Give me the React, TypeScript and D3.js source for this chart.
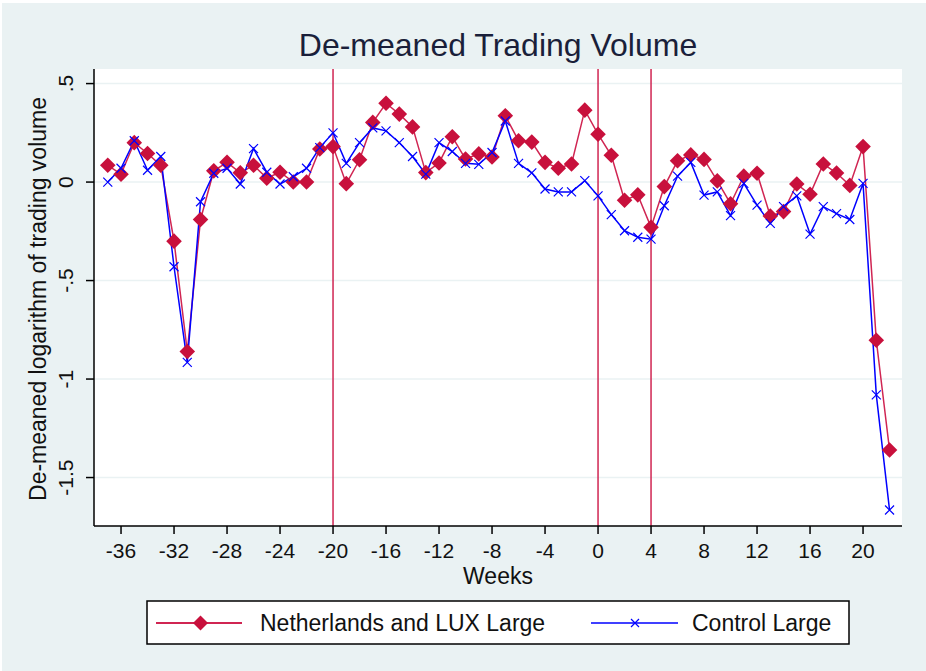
import React from 'react';
import * as d3 from 'd3';

// weeks relative to event
const weeks = d3.range(-37, 23);

// Netherlands and LUX Large (red diamonds)
const nlValues = [
  0.085, 0.04, 0.2, 0.145, 0.085, -0.3, -0.86, -0.19, 0.057, 0.1,
  0.047, 0.085, 0.02, 0.05, 0.0, 0.0, 0.168, 0.18, -0.008, 0.113,
  0.303, 0.4, 0.345, 0.28, 0.048, 0.097, 0.23, 0.117, 0.143, 0.127,
  0.337, 0.21, 0.203, 0.1, 0.07, 0.092, 0.365, 0.243, 0.136, -0.092,
  -0.065, -0.23, -0.023, 0.108, 0.138, 0.115, 0.006, -0.11, 0.03, 0.045,
  -0.172, -0.15, -0.01, -0.062, 0.092, 0.046, -0.017, 0.18, -0.803, -1.36,
];

// Control Large (blue crosses)
const ctrlValues = [
  0.0, 0.07, 0.21, 0.06, 0.13, -0.43, -0.915, -0.1, 0.045, 0.07,
  -0.01, 0.17, 0.05, -0.01, 0.027, 0.07, 0.175, 0.25, 0.095, 0.2,
  0.275, 0.26, 0.2, 0.13, 0.04, 0.2, 0.155, 0.095, 0.09, 0.15,
  0.31, 0.095, 0.047, -0.035, -0.05, -0.05, 0.007, -0.07, -0.165, -0.247,
  -0.28, -0.29, -0.12, 0.03, 0.1, -0.066, -0.05, -0.17, -0.007, -0.117,
  -0.21, -0.125, -0.07, -0.264, -0.125, -0.16, -0.19, -0.007, -1.08, -1.665,
];

const xTicks = [-36, -32, -28, -24, -20, -16, -12, -8, -4, 0, 4, 8, 12, 16, 20];
const yTicks = [0.5, 0, -0.5, -1, -1.5];
const yTickLabels = ['.5', '0', '-.5', '-1', '-1.5'];
const eventLines = [-20, 0, 4];

const RED = '#C8103C';
const RED_LINE = '#D02552';
const BLUE = '#0000FF';
const BG = '#EAF2F3';
const FONT = '"Liberation Sans", Arial, sans-serif';

const plot = { left: 94, right: 902, top: 69, bottom: 526 };

export default function App() {
  const xScale = d3.scaleLinear().domain([-38.04, 22.94]).range([plot.left, plot.right]);
  const yScale = d3.scaleLinear().domain([0.574, -1.746]).range([plot.top, plot.bottom]);

  const line = d3.line<number>()
    .x((d, i) => xScale(weeks[i]))
    .y((d) => yScale(d));

  const diamond = (cx: number, cy: number, r: number) =>
    `M${cx},${cy - r}L${cx + r},${cy}L${cx},${cy + r}L${cx - r},${cy}Z`;
  const cross = (cx: number, cy: number, r: number) =>
    `M${cx - r},${cy - r}L${cx + r},${cy + r}M${cx - r},${cy + r}L${cx + r},${cy - r}`;

  return (
    <svg width={926} height={671} style={{ display: 'block', position: 'absolute', left: 0, top: 0 }}>
      <rect x={0} y={0} width={926} height={671} fill="#fff" />
      <rect x={2} y={3} width={924} height={668} fill={BG} />
      <rect x={plot.left} y={plot.top} width={plot.right - plot.left} height={plot.bottom - plot.top} fill="#fff" />

      {/* gridlines */}
      {yTicks.map((t) => (
        <line key={'g' + t} x1={plot.left} x2={plot.right} y1={yScale(t)} y2={yScale(t)} stroke={BG} strokeWidth={1.5} />
      ))}

      {/* event lines */}
      {eventLines.map((w) => (
        <line key={'e' + w} x1={xScale(w)} x2={xScale(w)} y1={plot.top} y2={plot.bottom} stroke={RED_LINE} strokeWidth={1.5} />
      ))}

      {/* series */}
      <path d={line(nlValues) || ''} fill="none" stroke={RED_LINE} strokeWidth={1.5} />
      <path d={line(ctrlValues) || ''} fill="none" stroke={BLUE} strokeWidth={1.5} />
      {nlValues.map((v, i) => (
        <path key={'d' + i} d={diamond(xScale(weeks[i]), yScale(v), 7.8)} fill={RED} />
      ))}
      {ctrlValues.map((v, i) => (
        <path key={'c' + i} d={cross(xScale(weeks[i]), yScale(v), 4.5)} stroke={BLUE} strokeWidth={1.2} fill="none" />
      ))}

      {/* axes */}
      <line x1={plot.left} x2={plot.left} y1={plot.top} y2={plot.bottom} stroke="#000" strokeWidth={1.5} />
      <line x1={plot.left} x2={plot.right} y1={plot.bottom} y2={plot.bottom} stroke="#000" strokeWidth={1.5} />
      {yTicks.map((t, i) => (
        <g key={'y' + t}>
          <line x1={plot.left - 8} x2={plot.left} y1={yScale(t)} y2={yScale(t)} stroke="#000" strokeWidth={1.5} />
          <text
            transform={`translate(73,${yScale(t)}) rotate(-90)`}
            textAnchor="middle"
            fontFamily={FONT}
            fontSize={21}
            fill="#111"
          >
            {yTickLabels[i]}
          </text>
        </g>
      ))}
      {xTicks.map((t) => (
        <g key={'x' + t}>
          <line x1={xScale(t)} x2={xScale(t)} y1={plot.bottom} y2={plot.bottom + 8} stroke="#000" strokeWidth={1.5} />
          <text x={xScale(t)} y={558} textAnchor="middle" fontFamily={FONT} fontSize={21} fill="#111">
            {t}
          </text>
        </g>
      ))}

      {/* titles */}
      <text x={498} y={56} textAnchor="middle" fontFamily={FONT} fontSize={32} fill="#1a1f3a">
        De-meaned Trading Volume
      </text>
      <text x={498} y={584} textAnchor="middle" fontFamily={FONT} fontSize={23} fill="#111">
        Weeks
      </text>
      <text
        transform={`translate(46,299) rotate(-90)`}
        textAnchor="middle"
        fontFamily={FONT}
        fontSize={23}
        fill="#111"
      >
        De-meaned logarithm of trading volume
      </text>

      {/* legend */}
      <rect x={147} y={601} width={702} height={43} fill="#fff" stroke="#000" strokeWidth={1.5} />
      <line x1={156} x2={242} y1={623} y2={623} stroke={RED_LINE} strokeWidth={2} />
      <path d={diamond(200.5, 623, 7.5)} fill={RED} />
      <text x={260} y={631} fontFamily={FONT} fontSize={23} fill="#111">Netherlands and LUX Large</text>
      <line x1={591} x2={678} y1={623} y2={623} stroke={BLUE} strokeWidth={1.5} />
      <path d={cross(635, 623, 4)} stroke={BLUE} strokeWidth={1.2} fill="none" />
      <text x={692} y={631} fontFamily={FONT} fontSize={23} fill="#111">Control Large</text>
    </svg>
  );
}
